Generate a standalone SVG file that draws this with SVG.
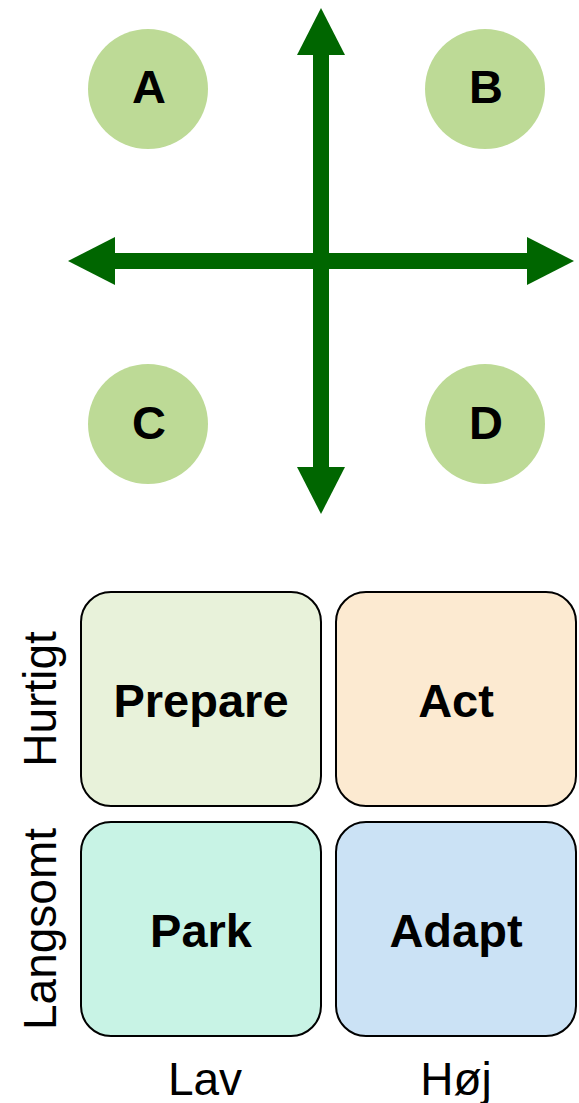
<svg xmlns="http://www.w3.org/2000/svg" width="579" height="1103" viewBox="0 0 579 1103">
  <style>
    .circ { fill: #BDDA96; }
    .lbl { font-family: "Liberation Sans", Arial, sans-serif; font-weight: bold; font-size: 47px; fill: #000; text-anchor: middle; }
    .box { stroke: #000; stroke-width: 2; }
    .axis { font-family: "Liberation Sans", Arial, sans-serif; font-size: 46px; fill: #000; text-anchor: middle; }
    .arrow { stroke: #006600; stroke-width: 16; fill: none; }
  </style>
  <defs>
    <marker id="head" viewBox="0 0 48 48" markerWidth="48" markerHeight="48" refX="1" refY="24" markerUnits="userSpaceOnUse" orient="auto-start-reverse">
      <path d="M0,0 L47,24 L0,48 Z" fill="#006600"/>
    </marker>
  </defs>

  <g id="connectors">
    <line class="arrow" x1="321" y1="54" x2="321" y2="468" marker-start="url(#head)" marker-end="url(#head)"/>
    <line class="arrow" x1="114" y1="261" x2="528" y2="261" marker-start="url(#head)" marker-end="url(#head)"/>
  </g>

  <g id="node-A">
    <circle class="circ" cx="148" cy="89" r="60"/>
    <text class="lbl" x="149" y="103">A</text>
  </g>
  <g id="node-B">
    <circle class="circ" cx="485" cy="89" r="60"/>
    <text class="lbl" x="486" y="103">B</text>
  </g>
  <g id="node-C">
    <circle class="circ" cx="148" cy="424" r="60"/>
    <text class="lbl" x="149" y="439">C</text>
  </g>
  <g id="node-D">
    <circle class="circ" cx="485" cy="424" r="60"/>
    <text class="lbl" x="486" y="439">D</text>
  </g>

  <g id="node-prepare">
    <rect class="box" x="81" y="592" width="240" height="214" rx="30" ry="30" fill="#E8F2DA"/>
    <text class="lbl" x="201" y="717">Prepare</text>
  </g>
  <g id="node-act">
    <rect class="box" x="336" y="592" width="240" height="214" rx="30" ry="30" fill="#FCEAD1"/>
    <text class="lbl" x="456" y="717">Act</text>
  </g>
  <g id="node-park">
    <rect class="box" x="81" y="822" width="240" height="214" rx="30" ry="30" fill="#C8F3E5"/>
    <text class="lbl" x="201" y="947">Park</text>
  </g>
  <g id="node-adapt">
    <rect class="box" x="336" y="822" width="240" height="214" rx="30" ry="30" fill="#CBE2F5"/>
    <text class="lbl" x="456" y="947">Adapt</text>
  </g>

  <g id="axis-labels">
    <text class="axis" transform="translate(56,699) rotate(-90)">Hurtigt</text>
    <text class="axis" transform="translate(56,929) rotate(-90)">Langsomt</text>
    <text class="axis" x="205" y="1095">Lav</text>
    <text class="axis" x="456" y="1095">Høj</text>
  </g>
</svg>
